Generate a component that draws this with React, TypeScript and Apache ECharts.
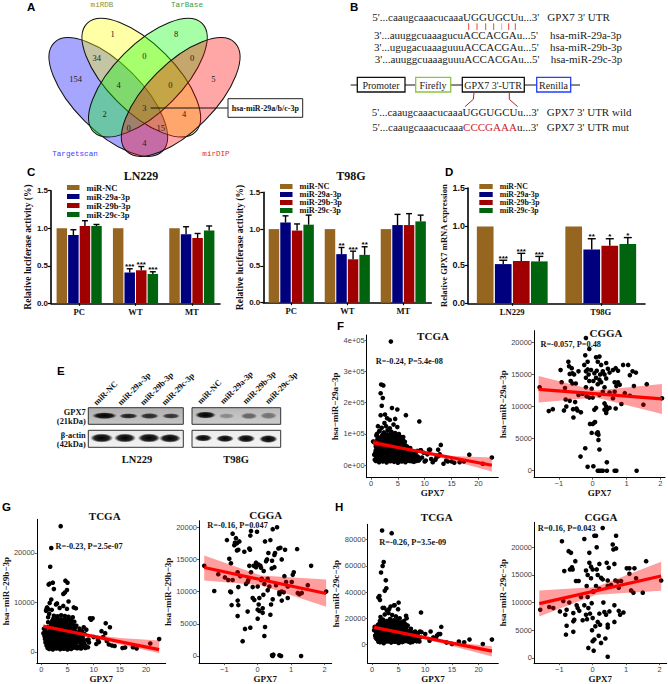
import React, { useEffect, useRef } from "react";
import * as echarts from "echarts";

const SERIF = '"Liberation Serif"';
const SANS = '"Liberation Sans"';
const MONO = '"Liberation Mono"';

const barNames = ["miR-NC", "miR-29a-3p", "miR-29b-3p", "miR-29c-3p"];
const barColors = ["#96651f", "#00007f", "#a00000", "#00640f"];

const groupsC = ["PC", "WT", "MT"];
const lnValues = [[1, 1, 1], [0.91, 0.41, 0.92], [1.03, 0.44, 0.87], [1.03, 0.39, 0.97]];
const lnErrors = [[1, 1, 1], [0.98, 0.46, 1.02], [1.1, 0.49, 0.93], [1.05, 0.42, 1.03]];
const lnStars = [["", "", ""], ["", "***", ""], ["", "***", ""], ["", "***", ""]];
const t98Values = [[1, 1, 1], [1.09, 0.66, 1.055], [0.98, 0.59, 1.055], [1.06, 0.65, 1.105]];
const t98Errors = [[1, 1, 1], [1.18, 0.75, 1.2], [1.07, 0.7, 1.21], [1.19, 0.76, 1.19]];
const t98Stars = [["", "", ""], ["", "**", ""], ["", "***", ""], ["", "**", ""]];
const groupsD = ["LN229", "T98G"];
const dValues = [[1, 1], [0.51, 0.7], [0.55, 0.75], [0.545, 0.77]];
const dErrors = [[1, 1], [0.56, 0.84], [0.65, 0.84], [0.61, 0.855]];
const dStars = [["", ""], ["***", "**"], ["***", "*"], ["***", "*"]];

const blobX = [
  0.9,1.5,2.2,2.9,3.6,4.3,5.0,5.7,6.4,7.2,8.0,8.9,
  0.7,1.3,1.9,2.6,3.2,3.9,4.6,5.3,6.0,6.8,7.6,8.5,
  0.5,1.1,1.7,2.4,3.0,3.7,4.4,5.1,5.8,6.5,7.3,8.2,
  0.6,1.2,1.8,2.5,3.3,4.0,4.7,5.4,6.1,6.9,7.7,9.1,
  0.8,1.4,2.0,2.7,3.4,4.1,4.8,5.5,6.2,7.0,7.9,8.7,
  0.4,1.0,1.6,2.3,3.1,3.8,4.5,5.2,5.9,6.6,7.4,8.3,
  0.9,1.5,2.1,2.8,3.5,4.2,4.9,5.6,6.3,7.1,7.8,8.6,
  1.0,1.6,2.2,2.9,3.6,4.3,5.0,5.7,6.4,7.2,8.1,9.3,
  1.1,1.7,2.3,3.0,3.7,4.4,5.1,5.8,6.5,7.3,
  1.3,1.9,2.5,3.2,3.9,4.6,5.3,6.0,6.7,
  1.4,2.1,2.8,3.4,4.1,4.8,5.5,6.3,
  1.6,2.4,3.1,3.8,4.5,5.2,6.0,
  2.0,2.8,3.5,4.2,4.9,
  1.2,1.8,2.5,3.2,3.9,4.6,5.3,6.0,6.8,7.6,8.4,
  1.0,1.6,2.3,3.0,3.7,4.4,5.1,5.8,6.6,7.4,8.2,
  0.8,1.4,2.1,2.8,3.5,4.2,4.9,5.6,6.3,7.1,7.9,
  0.9,1.5,2.2,2.9,3.6,4.3,5.0,5.7,6.5,7.2,8.0,
  1.1,1.7,2.4,3.1,3.8,4.5,5.2,5.9,6.7,7.5,
  1.2,1.8,2.6,3.3,4.0,4.7,5.4,6.1,6.9,
  1.3,2.0,2.7,3.4,4.1,4.8,5.5,6.2,
  1.5,2.3,3.0,3.7,4.4,5.1,5.8,
];
const tcga29aY = [
  14000,10000,12000,9000,13000,11000,8000,12000,10000,14000,11000,15000,
  18000,21000,17000,22000,19000,23000,18000,20000,22000,17000,19000,16000,
  75000,30000,26000,24000,29000,31000,25000,28000,27000,23000,21000,24000,
  34000,37000,33000,38000,35000,32000,36000,39000,34000,30000,26000,20000,
  70000,43000,46000,41000,45000,42000,47000,44000,40000,36000,30000,28000,
  76000,50000,54000,49000,53000,51000,55000,48000,46000,42000,34000,38000,
  60000,62000,58000,63000,59000,61000,57000,64000,52000,44000,37000,46000,
  95000,70000,67000,72000,68000,71000,66000,69000,58000,50000,42000,48000,
  100000,78000,75000,80000,76000,79000,74000,72000,62000,55000,
  125000,86000,83000,88000,84000,87000,82000,78000,60000,
  85000,96000,92000,97000,93000,95000,90000,75000,
  110000,105000,112000,107000,103000,100000,90000,
  120000,125000,118000,130000,122000,
  16000,15000,16000,17000,15000,16000,14000,17000,15000,13000,14000,
  24000,25000,26000,24000,27000,25000,23000,26000,24000,22000,20000,
  40000,41000,39000,42000,40000,43000,39000,41000,38000,33000,27000,
  48000,56000,50000,57000,49000,55000,51000,47000,45000,40000,35000,
  65000,66000,64000,67000,63000,65000,62000,60000,54000,46000,
  82000,74000,77000,73000,78000,72000,70000,66000,55000,
  90000,88000,91000,86000,89000,85000,80000,72000,
  108000,100000,99000,101000,98000,97000,85000,
];
const tcga29bY = [
  2100,600,500,700,550,650,500,600,900,800,1100,950,
  2600,1100,1000,1200,1050,1150,1000,1100,1300,1000,1400,1200,
  4700,1600,1500,1700,1550,1650,1500,1600,1800,1500,1900,1700,
  3200,2100,2000,2200,2050,2150,2000,2100,2300,2000,2400,1900,
  4300,2600,2500,2700,2550,2650,2500,2600,2800,2500,2900,2400,
  3800,3100,3000,3200,3050,3150,3000,3100,3300,3000,3400,3600,
  8300,3600,3500,3700,3550,3650,3500,3600,3800,3500,4200,4500,
  8700,4100,4000,4200,4050,4150,4000,4100,4300,4000,5000,6800,
  9000,4800,4700,4900,4750,4850,4700,4800,5000,4700,
  7000,5500,5400,5600,5450,5550,5400,5700,5300,
  8600,6300,6200,6400,6250,6350,6500,6100,
  9900,7300,7200,7400,7250,7100,7000,
  8500,9600,8900,9300,8700,
  800,900,800,850,750,800,700,850,750,700,800,
  1300,1350,1250,1300,1400,1300,1250,1350,1200,1150,1100,
  1900,2300,2400,2300,2250,2350,2300,2200,2200,2100,1800,
  2800,2900,3300,2850,2800,3300,2900,2800,2700,2600,2300,
  3900,3900,4400,3900,4300,3900,4400,3900,3700,3300,
  5000,5100,5000,5200,5100,5000,4900,4500,3900,
  6000,5900,6000,5800,6100,5900,5700,5300,
  7700,6700,6800,6600,6700,6500,6300,
];
const tcga29cY = [
  4300,1800,1000,2500,1500,2200,1200,1900,2700,1600,2900,2400,
  5200,3500,3000,3700,3200,3600,2800,3300,3900,3100,4000,3400,
  13500,5000,4600,5200,4800,5100,4500,4900,5300,4700,5400,4800,
  7000,6300,6000,6500,6200,6400,5900,6100,6600,5800,6200,5500,
  9000,8000,7500,8200,7700,7900,7400,7800,8300,7200,7000,6000,
  11000,9500,9000,9700,9200,9400,8900,9300,9800,8800,8000,7000,
  12500,11000,10500,11200,10700,10900,10400,10800,11300,10000,9000,8500,
  14000,12500,12000,12700,12200,12400,11900,12300,12800,11000,10000,9500,
  15000,14000,13500,14200,13700,13900,13400,13800,14000,12000,
  12000,16000,15500,16500,15800,16200,15300,15000,14500,
  14000,19000,18000,19500,18500,19000,17000,15500,
  21000,23000,24000,22500,21500,20000,18000,
  28000,26000,29000,30000,27000,
  2200,2600,2200,2500,2300,2400,2100,2600,2300,2000,2500,
  4000,4200,3900,4100,4300,4000,3800,4200,3900,3700,3500,
  6800,6900,6700,7000,6800,6600,6900,7000,6500,6000,5300,
  9000,8600,8700,8500,8800,8400,8600,8300,8000,7300,6500,
  10000,10200,9900,10100,10300,10000,9800,9600,9000,8000,
  13000,12000,11700,11900,11600,11800,11500,11000,10000,
  15500,14800,15000,14700,15200,14600,14000,13000,
  18000,17000,17500,16800,17200,16500,15000,
];
const tcga29aExtra = [
  [3.7,395000],[1.9,258000],[2.3,255000],[1.8,230000],[2.2,215000],[2,190000],[1.8,160000],[2.6,162000],
  [3.9,183000],[4.9,178000],[6.5,160000],[9,140000],[3,150000],[3.5,145000],[4.5,148000],[2.5,135000],
  [22.5,25000],[20.8,5000],[18.3,34000],[17.3,12000],[16.5,10000],[15.5,8000],[15,12000],[14.3,12000],
  [14,15000],[13.5,5000],[13,65000],[12.8,35000],[12.5,50000],[12.2,25000],[12,18000],[11.5,10000],
  [11,50000],[10.8,50000],[10.5,35000],[10.2,15000],[10,12000],[9.8,40000],[9.5,25000],[9.2,48000],
  [12.6,30000],[11.2,20000],
];
const tcga29bExtra = [
  [3.7,25400],[1.9,21000],[1.7,17200],[1.4,13600],[1.6,13800],[2.2,14000],[2.4,12700],[4.6,14400],[5,14000],
  [4.2,11700],[4.5,12000],[4.9,12500],[5.2,10200],[1.9,10600],[3,9800],[6.2,9000],[6.6,8800],
  [22.5,2600],[20.8,1700],[18.2,700],[17.5,950],[16,900],[15.5,800],[14,1200],[13.5,1300],[13.1,5000],
  [12.3,5800],[12.2,3800],[12.5,2200],[11.8,3000],[11.5,4200],[11,2000],[10.5,1600],[10,3000],[9.8,6800],
  [9.5,6500],[9,2500],[12.9,1500],[10.8,2400],
];
const tcga29cExtra = [
  [1.9,87000],[3.7,85000],[2,60000],[2.2,63000],[1.7,55000],[2.6,49000],[2.7,43000],[2.4,41000],[1.2,36000],
  [1.5,34000],[1.4,37000],[5,32000],[4.2,30000],[3.2,27000],[6.4,22000],[6.5,20000],[2.3,28000],
  [22.5,3800],[20.8,400],[18.3,3800],[17.3,1800],[16.3,2300],[15,500],[14,1500],[13,13500],[12.8,8000],
  [12.5,8000],[12.2,7000],[11,10000],[10.8,3000],[10,8000],[9.2,24500],[9,10000],[12,5000],[11.5,5500],
];
const cgga29a = [
  [-1.57,13000],[-1.3,9300],[-1.18,9600],[-0.95,15700],[-0.92,13800],[-0.85,9400],[-0.82,12900],[-0.8,11100],
  [-0.78,10000],[-0.72,17000],[-0.7,16300],[-0.68,15100],[-0.68,10900],[-0.65,14000],[-0.62,16000],[-0.6,15200],
  [-0.6,13600],[-0.58,9600],[-0.57,8300],[-0.55,15000],[-0.52,10700],[-0.5,13600],[-0.48,9700],[-0.45,9400],
  [-0.42,15500],[-0.42,11800],[-0.35,9100],[-0.3,12000],[-0.25,16500],[-0.22,18000],[-0.2,20700],[-0.2,15500],
  [-0.2,14500],[-0.2,13000],[-0.18,11600],[-0.15,17000],[-0.15,15800],[-0.12,15000],[-0.1,19000],[-0.1,14000],
  [-0.1,11400],[-0.05,15700],[-0.03,12800],[0,11400],[-0.08,7300],[0,7300],[0.05,7500],[0.07,7600],[-0.03,5900],
  [0.12,5800],[0.15,6000],[0.17,5600],[0.17,4800],[0.2,3300],[-0.22,3500],[-0.36,2200],[-0.15,600],[0.02,700],
  [0.42,1300],[0.15,0],[0.2,0],[0.25,0],[0.3,0],[0.42,0],[0.65,0],[0.7,0],[1.3,0],[0.1,17700],[0.15,17000],
  [0.2,17800],[0.25,16500],[0.4,16800],[0.3,15500],[0.35,15000],[0.4,14400],[0.45,15900],[0.5,15300],[0.6,15700],
  [0.68,16000],[0.75,15600],[0.9,16500],[1.05,16500],[1.18,15500],[1.28,15300],[1.1,14900],[1.22,13200],[1.6,13500],
  [1.5,10300],[2.05,11300],[0.65,13800],[0.7,13200],[0.75,13800],[0.8,13400],[0.85,10400],[0.95,12100],[1.1,11700],
  [0.35,9500],[0.4,9000],[0.42,9500],[0.35,10500],[0.4,10000],[0.5,9800],[0.68,9700],[0.05,9500],[0.1,9800],
  [0.6,11300],[0.65,12300],[0.5,12200],[0.3,12300],[0.2,11800],[0.15,13500],[0.1,14500],[0.02,14000],[0.2,14200],
  [0.25,13800],[0.3,15300],[0.35,13000],[0.05,15200],[0.12,15600],[0.22,15000],
];
const cgga29b = [
  [-1.6,14000],[-1.3,10100],[-1.18,12700],[-0.98,12200],[-0.92,18000],[-0.88,11800],[-0.85,15100],[-0.82,10000],
  [-0.8,9900],[-0.8,14400],[-0.78,7900],[-0.75,11800],[-0.75,19000],[-0.7,17200],[-0.68,17600],[-0.65,18300],
  [-0.62,17500],[-0.62,16400],[-0.6,13000],[-0.58,16500],[-0.6,8600],[-0.6,6200],[-0.58,10700],[-0.58,7900],
  [-0.55,17800],[-0.52,12400],[-0.45,2300],[-0.38,4200],[-0.22,4400],[-0.3,6900],[-0.4,16200],[-0.35,11200],
  [-0.3,11500],[-0.28,11800],[-0.25,16700],[-0.23,16500],[-0.22,18700],[-0.2,19400],[-0.25,14000],[-0.2,13000],
  [-0.15,9000],[-0.15,10700],[-0.12,14000],[-0.1,8700],[-0.05,13800],[-0.05,14500],[-0.02,19300],[0,10800],[0,7200],
  [0,5800],[0.02,14200],[0.03,8000],[0.05,9000],[0.05,7000],[0.08,14000],[0.1,11800],[0.1,13700],[0.12,12000],
  [0.15,6700],[0.15,7400],[0.17,9500],[0.2,11200],[0.2,3100],[0.22,4500],[0.22,17800],[0.25,14700],[0.28,15000],
  [0.3,10200],[0.32,16000],[0.35,10800],[0.38,6400],[0.38,18000],[0.4,8000],[0.42,13600],[0.43,14800],[0.45,8800],
  [0.45,19700],[0.5,15700],[0.5,13800],[0.52,16000],[0.55,11000],[0.58,20000],[0.62,16700],[0.68,16800],[0.65,9900],
  [0.65,9600],[0.72,10000],[0.72,15000],[0.72,8600],[0.78,9900],[0.8,12400],[0.82,16500],[0.85,11500],[0.9,9000],
  [0.9,10800],[1.02,11500],[1.05,12600],[1.08,13000],[1.18,16600],[1.2,9800],[1.25,9600],[1.32,9800],[1.5,11000],
  [1.6,14000],[2.05,10000],[0.43,100],[0.47,200],[0.45,0],[0.65,100],[0.7,0],[1.3,0],[0.18,13200],[0.3,12000],
];
const cgga29c = [
  [-1.57,8700],[-1.3,9200],[-1.18,9000],[-0.98,8400],[-0.92,21100],[-0.88,10300],[-0.85,15700],[-0.82,7800],
  [-0.8,4200],[-0.78,5800],[-0.78,8700],[-0.72,19300],[-0.7,10000],[-0.68,16000],[-0.65,19000],[-0.62,16400],
  [-0.6,16000],[-0.58,8100],[-0.58,4700],[-0.58,6600],[-0.55,6900],[-0.52,17500],[-0.5,13900],[-0.48,9500],
  [-0.45,9000],[-0.42,13900],[-0.4,8500],[-0.35,11000],[-0.3,6800],[-0.25,21500],[-0.25,9500],[-0.2,15800],
  [-0.2,7800],[-0.18,13000],[-0.17,7000],[-0.15,15000],[-0.13,9000],[-0.13,1800],[-0.1,19000],[-0.1,17200],
  [-0.08,8000],[-0.05,16500],[-0.05,14400],[-0.03,9900],[0,7200],[-0.02,5000],[0,3000],[0.03,12000],[0.03,1300],
  [0.05,3300],[0.05,22100],[0.1,22100],[0.12,20000],[0.12,16000],[0.15,15000],[0.15,6500],[0.18,4000],[0.2,17000],
  [0.2,8000],[0.22,6000],[0.25,2700],[0.25,14500],[0.3,23500],[0.3,14200],[0.32,10000],[0.35,8300],[0.38,3500],
  [0.4,7800],[0.42,17200],[0.45,13000],[0.45,14000],[0.45,6000],[0.45,5500],[0.45,200],[0.48,16300],[0.5,8400],
  [0.55,13200],[0.6,20500],[0.62,19600],[0.65,17000],[0.65,9500],[0.65,6500],[0.68,14000],[0.7,22100],[0.7,19800],
  [0.75,13800],[0.78,12700],[0.78,8500],[0.82,7800],[0.85,13900],[0.92,8200],[1.02,16200],[1.1,16200],[1.1,15200],
  [1.15,12200],[1.22,11800],[1.25,16200],[1.3,14400],[1.5,11800],[1.6,17500],[2.05,14000],[-0.15,11000],[0,12000],
  [0.1,13000],[0.2,12500],[0.08,5700],[0,16000],
];

const fitF1 = [[0.4, 72000], [22.5, 0]];
const bandF1 = [[0.4, 62000, 82000], [5, 52000, 62000], [10, 35000, 45000], [15, 15000, 30000], [22.5, -20000, 25000]];
const fitF2 = [[-1.6, 12700], [2.05, 11200]];
const bandF2 = [[-1.6, 10625, 14790], [0.1, 11400, 12500], [2.05, 8854, 13540]];
const fitG1 = [[0.4, 5200], [22.5, 470]];
const bandG1 = [[0.4, 4800, 5600], [5, 3900, 4500], [10, 2800, 3500], [15, 1500, 2800], [22.5, -200, 2330]];
const fitG2 = [[-1.6, 13740], [2.05, 9700]];
const bandG2 = [[-1.6, 11720, 15600], [0.1, 11000, 12500], [2.05, 7630, 11870]];
const fitH1 = [[0.4, 13100], [22.5, -4950]];
const bandH1 = [[0.4, 11900, 14300], [5, 8600, 10200], [10, 4000, 6000], [15, -1000, 2000], [22.5, -9170, -1240]];
const fitH2 = [[-1.6, 9820], [2.05, 14820]];
const bandH2 = [[-1.6, 7470, 12180], [0.1, 11400, 12800], [2.05, 12120, 17410]];

const ticks29a = [0, 100000, 200000, 300000, 400000];
const ticks29b = [0, 10000, 20000];
const ticks29c = [0, 20000, 40000, 60000, 80000];
const ticksCgga = [0, 5000, 10000, 15000, 20000];
const ticksGene = [0, 5, 10, 15, 20];
const ticksZ = [-1, 0, 1, 2];

const vennCounts: [string, number, number][] = [
  ["1", 112.7, 34], ["8", 176, 34.3], ["34", 96.7, 57.7], ["0", 144.3, 56], ["0", 192, 57.7], ["154", 75.7, 79.3],
  ["4", 118.7, 84.7], ["0", 170.3, 84.7], ["5", 213.3, 79.3], ["3", 144.3, 108.3], ["2", 104.7, 114], ["4", 184, 114],
  ["0", 128.7, 128], ["15", 160.7, 128], ["4", 144.3, 143.3],
];

const T = (x: number, y: number, text: string, size: number, o: any = {}) => ({
  type: "text", x, y, rotation: o.rotation || 0, silent: true,
  style: {
    text, fill: o.fill || "#111", fontSize: size, fontFamily: o.family || SERIF, fontWeight: o.weight || "normal",
    align: o.align || "center", verticalAlign: "middle", rich: o.rich,
  },
});
const L = (pts: number[][], stroke: string, lineWidth: number) => ({
  type: "polyline", silent: true, shape: { points: pts }, style: { stroke, lineWidth, fill: "none" },
});
const R = (x: number, y: number, w: number, h: number, stroke: string, lineWidth: number, fill: any = "#fff") => ({
  type: "rect", silent: true, shape: { x, y, width: w, height: h }, style: { stroke, lineWidth, fill },
});
const band = (cx: number, cy: number, rx: number, ry: number, dark: number) => ({
  type: "ellipse", silent: true, shape: { cx, cy, rx, ry },
  style: {
    fill: {
      type: "radial", x: 0.5, y: 0.5, r: 0.5,
      colorStops: [
        { offset: 0, color: `rgba(0,0,0,${dark})` },
        { offset: 0.65, color: `rgba(0,0,0,${dark * 0.85})` },
        { offset: 1, color: "rgba(0,0,0,0)" },
      ],
    },
  },
});

function vennElements() {
  const a = 76.7, b = 33.7, q = Math.PI / 4;
  const ell = (x: number, y: number, rot: number, fill: string) => ({
    type: "ellipse", silent: true, x, y, rotation: rot, shape: { cx: 0, cy: 0, rx: a, ry: b },
    style: { fill, stroke: "#111", lineWidth: 1 },
  });
  return [
    ell(108.3, 97, -q, "rgba(0,0,255,0.35)"),
    ell(141.3, 77.7, -q, "rgba(255,255,0,0.35)"),
    ell(147.9, 77.7, q, "rgba(0,255,0,0.35)"),
    ell(180.7, 97, q, "rgba(255,0,0,0.35)"),
    T(102, 5, "miRDB", 7.6, { family: MONO, fill: "#8f8f30" }),
    T(187, 5, "TarBase", 7.6, { family: MONO, fill: "#2f9e44" }),
    T(75, 154, "Targetscan", 7.6, { family: MONO, fill: "#3c3cff" }),
    T(216, 154, "mirDIP", 7.6, { family: MONO, fill: "#ee2222" }),
    ...vennCounts.map(([s, x, y]) => T(x, y, s, 8.5, { fill: "#222" })),
    L([[150.7, 108], [228, 108]], "#111", 1),
    R(228, 98.7, 74.7, 18.6, "#222", 1),
    T(265.3, 108, "hsa-miR-29a/b/c-3p", 8, { weight: "bold" }),
  ];
}

function constructElements() {
  const S = 11, c = "#222";
  const left = (x: number, y: number, s: string) => T(x, y, s, S, { align: "left", fill: c });
  const pairs = [[468.7, "#f04040"], [477, "#f04040"], [485.7, "#f04040"], [493.7, "#f04040"], [501.7, "#f7a0a0"], [508.7, "#f04040"], [515.3, "#f04040"]] as [number, string][];
  return [
    left(372.3, 17, "5'...caaugcaaacucaaaUGGUGCUu...3'"),
    left(547.3, 17, "GPX7 3' UTR"),
    ...pairs.map(([x, col]) => L([[x, 23.3], [x, 30]], col, 1)),
    left(374, 35, "3'...auuggcuaaagucuACCACGAu...5'"),
    left(550, 35, "hsa-miR-29a-3p"),
    left(374, 46.7, "3'...ugugacuaaaguuuACCACGAu...5'"),
    left(550, 46.7, "hsa-miR-29b-3p"),
    left(374.7, 59, "3'...auuggcuaaaguuuACCACGAu...5'"),
    left(550.7, 59, "hsa-miR-29c-3p"),
    L([[350.7, 85], [580, 85]], "#111", 1),
    R(357.3, 77.3, 47.7, 14.7, "#111", 1.3),
    R(415.7, 77.3, 35, 14.7, "#8cc63f", 1.3),
    R(462.3, 77.3, 62, 14.7, "#111", 1.3),
    R(536.7, 77.3, 34, 14.7, "#2040ff", 1.3),
    T(381, 85, "Promoter", 10, { fill: c }),
    T(433, 85, "Firefly", 10, { fill: c }),
    T(493, 85, "GPX7 3'-UTR", 10, { fill: c }),
    T(553.5, 85, "Renilla", 10, { fill: c }),
    L([[474, 92.7], [473.3, 99.3], [465, 106.7]], "#b22030", 1),
    L([[509.3, 92.7], [509.3, 99.3], [517.7, 106.7]], "#b22030", 1),
    left(371.7, 112.3, "5'...caaugcaaacucaaaUGGUGCUu...3'"),
    left(546.7, 112.3, "GPX7 3' UTR wild"),
    T(372.3, 126.7, "{k|5'...caaugcaaacucaaa}{r|CCCGAAA}{k|u...3'}", S, {
      align: "left",
      rich: {
        k: { fill: c, fontSize: S, fontFamily: SERIF, fontWeight: "normal" },
        r: { fill: "#d02030", fontSize: S, fontFamily: SERIF, fontWeight: "normal" },
      },
    }),
    left(546.7, 126.7, "GPX7 3' UTR mut"),
  ];
}

function blotElements() {
  const grey = (a: string, b: string) => ({
    type: "linear", x: 0, y: 0, x2: 0, y2: 1, colorStops: [{ offset: 0, color: a }, { offset: 1, color: b }],
  });
  const lanes = ["miR-NC", "miR-29a-3p", "miR-29b-3p", "miR-29c-3p"];
  const startsL = [95, 119.3, 141.7, 163.3];
  const startsR = [199, 221.7, 244.3, 266.7];
  const bold = { weight: "bold", align: "right" };
  return [
    R(88.3, 407.7, 95, 16.6, "#333", 1, grey("#b0b0b0", "#c4c4c4")),
    R(192, 407.7, 88.7, 16.6, "#333", 1, grey("#b8b8b8", "#cccccc")),
    R(88.3, 430.3, 95, 17, "#333", 1, grey("#e8e8e8", "#f2f2f2")),
    R(192, 430.3, 88.7, 17, "#333", 1, grey("#ececec", "#f4f4f4")),
    band(104.5, 415.7, 12.5, 3.4, 1), band(128.5, 416, 9.5, 2.8, 0.85), band(149.5, 416, 9.5, 3, 0.8), band(171, 416, 9, 2.8, 0.75),
    band(205.5, 415, 10.5, 3.6, 1), band(226.5, 416, 8, 2.8, 0.3), band(249, 416, 8.5, 3.2, 0.5), band(268.5, 415.7, 8.5, 3.4, 0.42),
    band(101.7, 438, 11.5, 4.6, 1), band(125, 438, 11, 4.6, 1), band(149, 438, 11.3, 4.6, 1), band(170, 438.3, 11, 4.4, 1),
    band(203.3, 438, 9, 3.6, 1), band(225, 438.6, 9, 3.6, 1), band(246, 438.6, 9.3, 4, 1), band(268.3, 439, 9.3, 4, 1),
    ...lanes.map((s, i) => T(startsL[i], 404, s, 8.4, { weight: "bold", align: "left", rotation: Math.PI / 4 })),
    ...lanes.map((s, i) => T(startsR[i], 402.7, s, 8.4, { weight: "bold", align: "left", rotation: Math.PI / 4 })),
    T(85.7, 412.7, "GPX7", 8.4, bold),
    T(85.7, 421.3, "(21kDa)", 8.4, bold),
    T(85.7, 435.7, "β-actin", 8.4, bold),
    T(85.7, 444, "(42kDa)", 8.4, bold),
    T(137, 459, "LN229", 10.5, { weight: "bold" }),
    T(236, 459, "T98G", 10.5, { weight: "bold" }),
  ];
}

const labelsAndTitles = [
  ...[["A", 27, 6.5], ["B", 350, 6.5], ["C", 27, 172], ["D", 445, 172], ["E", 57, 370.7], ["F", 337, 326], ["G", 2, 507], ["H", 335, 507]].map(
    ([s, x, y]) => T(x as number, y as number, s as string, 11.5, { family: SANS, weight: "bold", align: "left", fill: "#000" }),
  ),
  T(141, 175.6, "LN229", 12, { weight: "bold" }),
  T(351, 175.6, "T98G", 12, { weight: "bold" }),
  T(433, 336, "TCGA", 11, { weight: "bold" }),
  T(606, 333, "CGGA", 11, { weight: "bold" }),
  T(104.7, 516, "TCGA", 11, { weight: "bold" }),
  T(265.7, 514.5, "CGGA", 11, { weight: "bold" }),
  T(436.7, 517.3, "TCGA", 11, { weight: "bold" }),
  T(601, 517.3, "CGGA", 11, { weight: "bold" }),
  T(409.3, 361.3, "R=-0.24, P=5.4e-08", 8.3, { weight: "bold" }),
  T(570.7, 344, "R=-0.057, P=0.48", 8.3, { weight: "bold" }),
  T(89, 546, "R=-0.23, P=2.5e-07", 8.3, { weight: "bold" }),
  T(237.5, 525.5, "R=-0.16, P=0.047", 8.3, { weight: "bold" }),
  T(412.7, 542.7, "R=-0.26, P=3.5e-09", 8.3, { weight: "bold" }),
  T(566.7, 528, "R=0.16, P=0.043", 8.3, { weight: "bold" }),
];

function buildOption() {
  const grid: any[] = [], xAxis: any[] = [], yAxis: any[] = [], series: any[] = [], legend: any[] = [];

  const barPanel = (p: any) => {
    const g = grid.length;
    grid.push({ left: p.left, top: p.top, width: p.width, height: p.height });
    xAxis.push({
      type: "category", gridIndex: g, data: p.cats,
      axisLine: { lineStyle: { color: "#000", width: 1.6 } },
      axisTick: { show: true, alignWithLabel: true, length: 2.5, lineStyle: { color: "#000", width: 1.2 } },
      axisLabel: { color: "#111", fontFamily: SERIF, fontWeight: "bold", fontSize: 8.6, margin: 4 },
    });
    yAxis.push({
      type: "value", gridIndex: g, min: 0, max: 1.5, interval: 0.5,
      name: p.yName, nameLocation: "middle", nameGap: p.nameGap,
      nameTextStyle: { fontFamily: SERIF, fontSize: p.nameSize, fontWeight: "bold", color: "#111" },
      splitLine: { show: false },
      axisLine: { show: true, lineStyle: { color: "#000", width: 1.6 } },
      axisTick: { show: true, length: 3, lineStyle: { color: "#000", width: 1.2 } },
      axisLabel: { color: "#111", fontFamily: SANS, fontWeight: "bold", fontSize: p.tickSize, margin: 3, formatter: (v: number) => v.toFixed(1) },
    });
    barNames.forEach((name, i) => {
      series.push({
        type: "bar", name, xAxisIndex: g, yAxisIndex: g, data: p.values[i], barWidth: p.barWidth, barGap: p.barGap,
        itemStyle: { color: barColors[i] }, silent: true,
      });
    });
    series.push({
      type: "custom", xAxisIndex: g, yAxisIndex: g, silent: true, z: 5, encode: { x: 0, y: 1 },
      data: p.cats.flatMap((_: string, c: number) => barNames.map((__, i) => [c, p.errors[i][c], i])),
      renderItem: (params: any, api: any) => {
        const c = api.value(0), i = api.value(2);
        const v = p.values[i][c], e = p.errors[i][c], star = p.stars[i][c];
        const step = p.barWidth * (1 + parseFloat(p.barGap) / 100);
        const base = api.coord([c, v]), top = api.coord([c, e]);
        const x = base[0] + (i - 1.5) * step;
        const children: any[] = [];
        if (e > v) {
          const st = { stroke: "#000", lineWidth: 1.4 };
          children.push({ type: "line", shape: { x1: x, y1: base[1], x2: x, y2: top[1] }, style: st });
          children.push({ type: "line", shape: { x1: x - p.cap, y1: top[1], x2: x + p.cap, y2: top[1] }, style: st });
        }
        if (star) {
          children.push({
            type: "text", x, y: top[1] - 2,
            style: { text: star, align: "center", verticalAlign: "middle", fill: "#000", fontSize: 8, fontFamily: SANS, fontWeight: "bold" },
          });
        }
        return { type: "group", children };
      },
    });
    legend.push({
      data: barNames, orient: "vertical", left: p.legLeft, top: p.legTop, itemWidth: p.legW, itemHeight: 5, itemGap: 0,
      padding: 0, icon: "rect", selectedMode: false,
      textStyle: { fontFamily: SERIF, fontWeight: "bold", fontSize: p.legSize, lineHeight: p.legStep, color: "#111", padding: [0, 0, 0, 2] },
    });
  };

  barPanel({
    left: 51, top: 190.7, width: 169, height: 112.6, cats: groupsC, values: lnValues, errors: lnErrors, stars: lnStars,
    barWidth: 10.5, barGap: "10%", cap: 3, yName: "Relative luciferase activity (%)", nameGap: 15, nameSize: 9.5, tickSize: 8,
    legLeft: 67, legTop: 183, legW: 12.5, legSize: 8.6, legStep: 7.9,
  });
  barPanel({
    left: 263.3, top: 192.3, width: 168, height: 110.4, cats: groupsC, values: t98Values, errors: t98Errors, stars: t98Stars,
    barWidth: 10.5, barGap: "10%", cap: 3, yName: "Relative luciferase activity (%)", nameGap: 15, nameSize: 9.5, tickSize: 8,
    legLeft: 280, legTop: 182.5, legW: 12.5, legSize: 8.3, legStep: 7.4,
  });
  barPanel({
    left: 468, top: 188, width: 177, height: 115.3, cats: groupsD, values: dValues, errors: dErrors, stars: dStars,
    barWidth: 16.7, barGap: "8%", cap: 4, yName: "Relative GPX7 mRNA expression", nameGap: 16, nameSize: 8.6, tickSize: 9,
    legLeft: 479.3, legTop: 182.5, legW: 13.4, legSize: 7.8, legStep: 8,
  });

  const scatterPanel = (p: any) => {
    const g = grid.length;
    grid.push({ left: p.left, top: p.top, width: p.width, height: p.height });
    const tickCol = "#444";
    xAxis.push({
      type: "value", gridIndex: g, min: p.x[0], max: p.x[1], name: "GPX7", nameLocation: "middle", nameGap: 10,
      nameTextStyle: { fontFamily: SERIF, fontWeight: "bold", fontSize: 9, color: "#111" },
      splitLine: { show: false },
      axisLine: { onZero: false, lineStyle: { color: "#000", width: 1 } },
      axisTick: { length: 2, lineStyle: { color: "#333", width: 0.8 }, customValues: p.xTicks },
      axisLabel: { color: tickCol, fontFamily: SANS, fontSize: 7.5, margin: 2, customValues: p.xTicks, formatter: (v: number) => (v < 0 ? "−" + -v : String(v)) },
    });
    yAxis.push({
      type: "value", gridIndex: g, min: p.y[0], max: p.y[1], name: p.yName, nameLocation: "middle", nameGap: p.nameGap,
      nameTextStyle: { fontFamily: SERIF, fontWeight: "bold", fontSize: 9, color: "#111" },
      splitLine: { show: false },
      axisLine: { show: true, onZero: false, lineStyle: { color: "#000", width: 1 } },
      axisTick: { show: true, length: 2, lineStyle: { color: "#333", width: 0.8 }, customValues: p.yTicks },
      axisLabel: { color: tickCol, fontFamily: SANS, fontSize: 7.5, margin: 2, customValues: p.yTicks, formatter: p.yFmt },
    });
    series.push({
      type: "scatter", xAxisIndex: g, yAxisIndex: g, data: p.points, symbolSize: 4.6, silent: true, z: 2,
      itemStyle: { color: "#000", opacity: 1 },
    });
    series.push({
      type: "custom", xAxisIndex: g, yAxisIndex: g, silent: true, z: 3, data: p.band, encode: { x: 0, y: 1 },
      renderItem: (params: any, api: any) => {
        if (params.dataIndex !== 0) return null;
        const up = p.band.map((r: number[]) => api.coord([r[0], r[2]]));
        const lo = p.band.map((r: number[]) => api.coord([r[0], r[1]])).reverse();
        return { type: "polygon", shape: { points: [...up, ...lo] }, style: { fill: "rgba(255,0,0,0.38)" } };
      },
    });
    series.push({
      type: "line", xAxisIndex: g, yAxisIndex: g, data: p.fit, showSymbol: false, silent: true, z: 4,
      lineStyle: { color: "#ff0000", width: 3.2 },
    });
  };

  const sci = (v: number) => (v === 0 ? "0e+00" : `${v / 100000}e+05`);
  const plain = (v: number) => String(v);
  const withBlob = (ys: number[], extra: number[][]) => [...blobX.map((x, i) => [x, ys[i]]), ...extra];

  scatterPanel({
    left: 366.7, top: 335, width: 131.6, height: 142.7, x: [-0.8, 23.7], y: [-39600, 416000], xTicks: ticksGene, yTicks: ticks29a, yFmt: sci,
    yName: "hsa−miR−29a−3p", nameGap: 25, points: withBlob(tcga29aY, tcga29aExtra), band: bandF1, fit: fitF1,
  });
  scatterPanel({
    left: 534, top: 330.7, width: 131, height: 147, x: [-1.737, 2.14], y: [-1092, 21840], xTicks: ticksZ, yTicks: ticksCgga, yFmt: plain,
    yName: "hsa−miR−29a−3p", nameGap: 24.5, points: cgga29a, band: bandF2, fit: fitF2,
  });
  scatterPanel({
    left: 32.3, top: 519.3, width: 133.4, height: 145.7, x: [-0.87, 23.75], y: [-2250, 26790], xTicks: ticksGene, yTicks: ticks29b, yFmt: plain,
    yName: "hsa−miR−29b−3p", nameGap: 23.8, points: withBlob(tcga29bY, tcga29bExtra), band: bandG1, fit: fitG1,
  });
  scatterPanel({
    left: 199, top: 520.7, width: 132.7, height: 145.6, x: [-1.757, 2.216], y: [-1109, 21018], xTicks: ticksZ, yTicks: ticksCgga, yFmt: plain,
    yName: "hsa−miR−29b−3p", nameGap: 23.8, points: cgga29b, band: bandG2, fit: fitG2,
  });
  scatterPanel({
    left: 367.7, top: 524.3, width: 130.6, height: 142.4, x: [-0.8, 23.7], y: [-14126, 91747], xTicks: ticksGene, yTicks: ticks29c, yFmt: plain,
    yName: "hsa−miR−29c−3p", nameGap: 23, points: withBlob(tcga29cY, tcga29cExtra), band: bandH1, fit: fitH1,
  });
  scatterPanel({
    left: 534, top: 522.3, width: 132.7, height: 144.4, x: [-1.757, 2.216], y: [-953, 24530], xTicks: ticksZ, yTicks: ticksCgga, yFmt: plain,
    yName: "hsa−miR−29c−3p", nameGap: 21.8, points: cgga29c, band: bandH2, fit: fitH2,
  });

  return {
    animation: false,
    backgroundColor: "#fff",
    textStyle: { fontFamily: SERIF },
    grid, xAxis, yAxis, series, legend,
    graphic: [...vennElements(), ...constructElements(), ...blotElements(), ...labelsAndTitles],
  };
}

export default function App() {
  const ref = useRef<HTMLDivElement>(null);
  useEffect(() => {
    document.body.style.margin = "0";
    const chart = echarts.init(ref.current!, undefined, { renderer: "svg" });
    chart.setOption(buildOption() as any);
    return () => chart.dispose();
  }, []);
  return <div ref={ref} style={{ width: 668, height: 684 }} />;
}
